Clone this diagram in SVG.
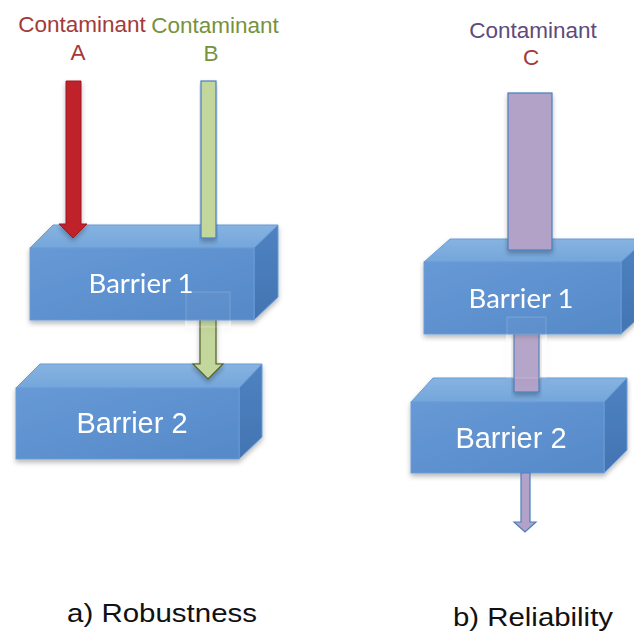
<svg xmlns="http://www.w3.org/2000/svg" width="634" height="637" viewBox="0 0 634 637">
<style>
.top{fill:url(#gTop);stroke:#6b9bd6;stroke-width:1}
.front{fill:url(#gFront);stroke:#6b9bd6;stroke-width:1}
.side{fill:url(#gSide);stroke:#6b9bd6;stroke-width:1}
.bt1{font-family:Lato,"Open Sans",sans-serif;font-size:27.5px;fill:#ffffff;text-anchor:middle}
.bt2{font-family:"Liberation Sans",Arial,sans-serif;font-size:29px;fill:#ffffff;text-anchor:middle}
.lbl{font-family:"Liberation Sans",Arial,sans-serif;font-size:22.5px;text-anchor:middle}
.cap{font-family:"Liberation Sans",Arial,sans-serif;font-size:25px;fill:#111111}
.red{fill:#c0202a;stroke:#a01a22;stroke-width:1}
.green{fill:#c3d69b;stroke:#4a7ebb;stroke-width:1.2}
.greenb{fill:#c3d69b;stroke:#4f6228;stroke-width:1.2}
.purple{fill:#b3a2c7;stroke:#4a7ebb;stroke-width:1.2}
.ghost{fill:#ffffff;fill-opacity:0.03;stroke:#ffffff;stroke-opacity:0.22;stroke-width:0.8}
</style>
<defs>
<linearGradient id="gTop" x1="0" y1="0" x2="0" y2="1"><stop offset="0" stop-color="#86b3e0"/><stop offset="1" stop-color="#74a6dc"/></linearGradient>
<linearGradient id="gFront" x1="0" y1="0" x2="1" y2="1"><stop offset="0" stop-color="#6799d6"/><stop offset="1" stop-color="#5589c8"/></linearGradient>
<linearGradient id="gSide" x1="0" y1="0" x2="0" y2="1"><stop offset="0" stop-color="#4f82c1"/><stop offset="1" stop-color="#4374b2"/></linearGradient>
<filter id="sh" x="-10%" y="-10%" width="120%" height="130%"><feDropShadow dx="0" dy="3" stdDeviation="2.5" flood-color="#000" flood-opacity="0.28"/></filter>
</defs>

<g id="labels">
<text class="lbl" x="82" y="32" fill="#a33a3a">Contaminant</text>
<text class="lbl" x="78" y="60" fill="#a33a3a">A</text>
<text class="lbl" x="215" y="33" fill="#76923c">Contaminant</text>
<text class="lbl" x="211" y="61" fill="#76923c">B</text>
<text class="lbl" x="533" y="38" fill="#604a7b">Contaminant</text>
<text class="lbl" x="531" y="65" fill="#a33a3a">C</text>
<text class="cap" x="67" y="622" textLength="190" lengthAdjust="spacingAndGlyphs">a) Robustness</text>
<text class="cap" x="453" y="626" textLength="160" lengthAdjust="spacingAndGlyphs">b) Reliability</text>
</g>

<g id="a-barrier2" filter="url(#sh)">
<polygon class="top" points="16,388 40,364 262,364 239,388"/>
<polygon class="side" points="239,388 262,364 262,437 239,459"/>
<rect class="front" x="16" y="388" width="223" height="71"/>
<text class="bt2" x="132" y="433">Barrier 2</text>
</g>

<g id="connectors">
<g id="a-green-lower" filter="url(#sh)">
<polygon class="greenb" points="200,318 216,318 216,364 223,364 208,379 193,364 200,364"/>
</g>
</g>

<g id="a-barrier1" filter="url(#sh)">
<polygon class="top" points="30,248 53,225 278,225 254,248"/>
<polygon class="side" points="254,248 278,225 278,297 254,320"/>
<rect class="front" x="30" y="248" width="224" height="72"/>
<text class="bt1" x="141" y="293">Barrier 1</text>
<rect class="ghost" x="186" y="292" width="44" height="35"/>
</g>

<g id="a-arrows">
<polygon class="red" filter="url(#sh)" points="66,81 81,81 81,224 87,224 73,238 59,224 66,224"/>
<rect class="green" filter="url(#sh)" x="201" y="81" width="15" height="157"/>
</g>

<g id="b-barrier2" filter="url(#sh)">
<polygon class="top" points="411,402 433,378 627,378 604,402"/>
<polygon class="side" points="604,402 627,378 627,450 604,473"/>
<rect class="front" x="411" y="402" width="193" height="71"/>
<text class="bt2" x="511" y="448">Barrier 2</text>
</g>

<g id="b-arrows">
<rect class="purple" filter="url(#sh)" x="514" y="330" width="25" height="62"/>
<polygon class="purple" points="521,473 530,473 530,522 536,522 525,532 514,522 521,522"/>
</g>

<g id="b-barrier1" filter="url(#sh)">
<polygon class="top" points="424,262 450,239 646,239 621,262"/>
<polygon class="side" points="621,262 646,239 646,311 621,334"/>
<rect class="front" x="424" y="262" width="197" height="72"/>
<text class="bt1" x="521" y="308">Barrier 1</text>
<rect class="ghost" x="507" y="317" width="39" height="61"/>
</g>

<g id="b-top">
<rect class="purple" filter="url(#sh)" x="508" y="93" width="44" height="157"/>
</g>
</svg>
